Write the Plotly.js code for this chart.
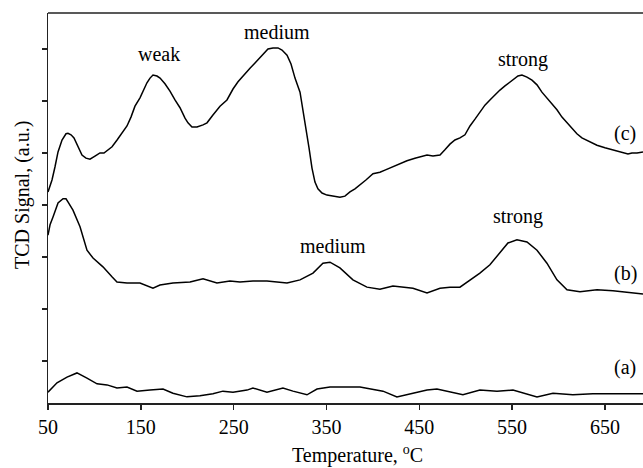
<!DOCTYPE html>
<html>
<head>
<meta charset="utf-8">
<script src="https://cdn.plot.ly/plotly-3.0.1.min.js"></script>
<style>html,body{margin:0;padding:0;background:#fff;}#chart{width:643px;height:468px;}</style>
</head>
<body>
<div id="chart"></div>
<script>
// Temperature (°C) and TCD signal (a.u.)
const tempA = [50,59.7,70.5,81.2,92,102.8,113.6,124.3,135.1,145.9,159.9,173.9,184.6,199.7,213.7,227.7,238.5,249.3,264.4,270.8,285.9,303.1,313.9,329,339.8,353.8,364.5,386.1,410.9,425.9,443.2,458.3,469,483,497,515.3,533.7,550.9,561.7,576.8,594,615.5,637,658.6,691];
const sigA  = [0.40,0.58,0.69,0.77,0.67,0.56,0.54,0.48,0.50,0.42,0.44,0.46,0.38,0.31,0.33,0.37,0.42,0.40,0.44,0.48,0.40,0.48,0.42,0.35,0.46,0.50,0.50,0.50,0.42,0.31,0.38,0.44,0.46,0.40,0.35,0.44,0.42,0.44,0.38,0.31,0.38,0.35,0.37,0.37,0.37];

const tempB = [50,52.2,55.4,60.8,66.2,69.4,71.5,76.9,84.5,92,98.5,109.2,118.9,124.3,135.1,149.1,163.1,170.6,184.6,203,217,232,246,256.8,270.8,285.9,307.5,321.5,335.5,346.2,353.8,364.5,378.5,393.6,407.6,421.6,443.2,458.3,472.3,483,493.8,504.6,515.3,526.1,536.9,545.5,555.2,566,576.8,587.5,598.3,609.1,623.1,641.4,658.6,676.9,691];
const sigB  = [3.42,3.62,3.77,4.04,4.12,4.12,4.06,3.90,3.58,3.13,2.98,2.81,2.62,2.52,2.50,2.50,2.40,2.46,2.50,2.52,2.58,2.50,2.54,2.52,2.54,2.54,2.50,2.56,2.69,2.88,2.90,2.79,2.56,2.42,2.38,2.44,2.40,2.31,2.40,2.42,2.42,2.56,2.69,2.85,3.08,3.27,3.33,3.29,3.13,2.88,2.56,2.37,2.33,2.37,2.35,2.31,2.29];

const tempC = [50,54.3,57.5,60.8,65.1,69.4,71.5,74.8,78,82.3,86.6,90.9,95.2,100.6,106,110.3,113.6,119,124.4,129.8,135.1,139.4,143.7,149.1,153.4,156.6,159.9,163.1,167.4,170.7,176,181.4,186.8,192.2,197.6,200.8,205.1,210.5,217,221.3,227.7,235.3,242.8,249.3,254.7,259,267.6,273,278.4,283.8,287,292.4,297.8,302.1,307.5,311.8,316.1,321.5,324.7,328,331.2,334.4,337.6,340.8,345.2,350.5,357,364.5,369.9,375.3,380.7,386.1,392.5,400.1,407.6,413,420.6,429.2,436.7,445.3,452.9,458.3,464.7,472.3,477.6,483,488.4,493.8,499.2,504.6,510,515.3,520.7,526.1,531.5,536.9,542.3,547.7,553.1,556.3,560.6,566,571.4,576.8,582.1,587.5,592.9,598.3,603.7,609.1,614.5,619.8,625.2,633.8,641.4,650,658.6,666.2,674.8,679.1,684.5,691];
const sigC  = [4.25,4.48,4.73,5.02,5.25,5.37,5.38,5.35,5.29,5.13,4.96,4.90,4.88,4.94,5.00,5.00,5.04,5.12,5.25,5.38,5.52,5.69,5.90,6.06,6.23,6.35,6.44,6.50,6.48,6.44,6.33,6.19,6.02,5.87,5.67,5.58,5.50,5.50,5.54,5.58,5.73,5.90,6.02,6.23,6.37,6.46,6.63,6.73,6.83,6.94,7.00,7.02,7.02,6.98,6.88,6.71,6.44,6.17,5.83,5.48,5.10,4.71,4.44,4.31,4.23,4.19,4.17,4.15,4.17,4.25,4.31,4.38,4.48,4.60,4.63,4.67,4.73,4.79,4.85,4.90,4.94,4.96,4.94,4.96,5.06,5.17,5.25,5.29,5.35,5.52,5.65,5.79,5.92,6.02,6.12,6.21,6.29,6.37,6.44,6.48,6.50,6.46,6.40,6.31,6.17,6.06,5.94,5.83,5.69,5.58,5.46,5.37,5.29,5.21,5.15,5.10,5.06,5.02,4.98,5.00,5.00,5.02];

const xTicks = [50,150,250,350,450,550,650];
const yTicks = [1,2,3,4,5,6,7];

const labelText = ['weak','medium','strong','(c)','medium','strong','(b)','(a)'];
const labelTemp = [169.6,296.7,561.7,671.5,357,556.3,672.6,671.5];
const labelSig  = [6.90,7.33,6.79,5.38,3.21,3.77,2.69,0.88];

const xTitle = 'Temperature, <sup>o</sup>C';
const yTitle = 'TCD Signal, (a.u.)';

const FONT = 'Liberation Serif, Times New Roman, serif';
const lineStyle = {color:'#000', width:1.5};

const traces = [
  {x:tempA, y:sigA, mode:'lines', line:lineStyle, name:'(a)', hoverinfo:'skip'},
  {x:tempB, y:sigB, mode:'lines', line:lineStyle, name:'(b)', hoverinfo:'skip'},
  {x:tempC, y:sigC, mode:'lines', line:lineStyle, name:'(c)', hoverinfo:'skip'}
];

const annotations = labelText.map((t,i)=>({
  x: labelTemp[i], y: labelSig[i], xref:'x', yref:'y', text:t, showarrow:false,
  font:{family:FONT, size:20, color:'#000'}
}));
annotations.push({x:0.521, y:-0.133, xref:'paper', yref:'paper', text:xTitle, showarrow:false,
  xanchor:'center', yanchor:'middle', font:{family:FONT, size:20, color:'#000'}});
annotations.push({x:-0.044, y:0.533, xref:'paper', yref:'paper', text:yTitle, showarrow:false, textangle:-90,
  xanchor:'center', yanchor:'middle', font:{family:FONT, size:20, color:'#000'}});

const layout = {
  width:643, height:468,
  margin:{l:48, r:0, t:13, b:65},
  paper_bgcolor:'#fff', plot_bgcolor:'#fff',
  showlegend:false,
  font:{family:FONT, size:20, color:'#000'},
  xaxis:{
    range:[50,691], tickvals:xTicks, ticktext:xTicks.map(String),
    ticks:'outside', ticklen:5, tickwidth:1.5, tickcolor:'#222',
    showline:true, linecolor:'#222', linewidth:1.5,
    showgrid:false, zeroline:false,
    tickfont:{family:FONT, size:20, color:'#000'}
  },
  yaxis:{
    range:[0.192,7.692], tickvals:yTicks, showticklabels:false,
    ticks:'outside', ticklen:5, tickwidth:1.5, tickcolor:'#222',
    showline:true, linecolor:'#222', linewidth:1.5,
    showgrid:false, zeroline:false
  },
  shapes:[{type:'line', xref:'paper', yref:'paper', x0:0, x1:1, y0:1, y1:1, line:{color:'#222', width:1.5}}],
  annotations: annotations
};

Plotly.newPlot('chart', traces, layout, {staticPlot:true, displayModeBar:false});
</script>
</body>
</html>
